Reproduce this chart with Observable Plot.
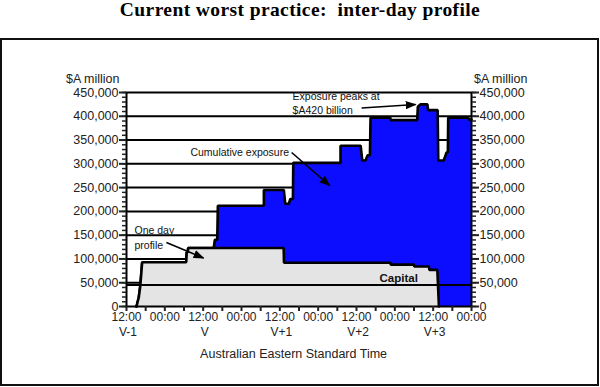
<!DOCTYPE html>
<html><head><meta charset="utf-8">
<script src="https://cdn.jsdelivr.net/npm/d3@7"></script>
<script src="https://cdn.jsdelivr.net/npm/@observablehq/plot@0.6"></script>
<style>
html,body{margin:0;padding:0;background:#fff;}
#wrap{position:relative;width:600px;height:387px;}
#title{position:absolute;left:0;top:0;width:600px;text-align:center;font-family:"Liberation Serif","Times New Roman",serif;font-weight:bold;font-size:19.5px;line-height:19.5px;letter-spacing:0.4px;white-space:pre;color:#000;}
#box{position:absolute;left:0;top:37.5px;width:599px;height:348px;border:2px solid #111;box-sizing:border-box;}
#chart{position:absolute;left:0;top:0;}
</style></head><body>
<div id="wrap"><div id="title">Current worst practice:  inter-day profile</div><div id="box"></div><div id="chart"></div></div>
<script>
// hours since 12:00 on day V-1
const cumHours  = [3.13, 3.85, 4.3, 4.9, 18.7, 18.85, 19.2, 19.3, 27.3, 27.65, 28.4, 28.6, 43.0, 43.0, 49.25, 49.7, 50.8, 51.3, 52.1, 52.2, 67.0, 67.0, 73.3, 73.8, 74.8, 75.5, 76.2, 76.4, 82.6, 82.7, 91.0, 91.2, 92.0, 94.2, 94.4, 97.4, 97.6, 99.3, 100.2, 100.6, 100.7, 107.0, 107.2, 108];
const cumValues = [0, 19500, 42000, 93000, 93000, 114000, 114000, 123000, 123000, 140000, 140000, 212000, 212000, 245000, 245000, 216000, 216000, 226000, 226000, 302000, 302000, 338000, 338000, 307000, 307000, 318000, 318000, 397000, 397000, 392000, 392000, 420000, 425000, 425000, 413000, 413000, 307000, 307000, 324000, 324000, 397000, 397000, 393000, 393000];

const oneHours  = [3.13, 3.85, 4.3, 4.9, 18.7, 18.85, 19.2, 19.3, 49.2, 49.3, 82.6, 82.7, 90.0, 90.1, 94.7, 94.8, 97.3, 97.8];
const oneValues = [0, 19500, 42000, 93000, 93000, 114000, 114000, 123000, 123000, 92000, 92000, 88000, 88000, 84000, 84000, 77000, 77000, 0];

const capitalValue = 45000;

const yTicks = [0, 50000, 100000, 150000, 200000, 250000, 300000, 350000, 400000, 450000];
const gridValues = [50000, 100000, 150000, 200000, 250000, 300000, 350000, 400000];
const yMinorTicks = d3.range(0, 450001, 10000);

const xTickHours = [0, 12, 24, 36, 48, 60, 72, 84, 96, 108];
const xTickTimes = ["12:00", "00:00", "12:00", "00:00", "12:00", "00:00", "12:00", "00:00", "12:00", "00:00"];
const dayLabels  = ["V-1", "", "V", "", "V+1", "", "V+2", "", "V+3", ""];
const xMinorTicks = d3.range(0, 109, 6);

const noteTexts  = ["Exposure peaks at", "$A420 billion", "Cumulative exposure", "One day", "profile"];
const noteHours  = [52.0, 52.0, 20.0, 2.5, 2.5];
const noteValues = [441500, 412100, 322700, 158900, 128300];

const arrowFromH = [73.6, 51.7, 12.5];
const arrowFromV = [417400, 323800, 134600];
const arrowToH   = [90.5, 63.6, 24.1];
const arrowToV   = [424700, 254400, 102000];

const cumData = cumHours.map((h, i) => ({h, v: cumValues[i]}));
const oneData = oneHours.map((h, i) => ({h, v: oneValues[i]}));
const notes = noteTexts.map((t, i) => ({t, h: noteHours[i], v: noteValues[i]}));
const arrows = arrowFromH.map((h, i) => ({h1: h, v1: arrowFromV[i], h2: arrowToH[i], v2: arrowToV[i]}));
const xLabels = xTickHours.map((h, i) => ({h, t: xTickTimes[i], d: dayLabels[i]}));

function solidArrow(color) {
  const ns = "http://www.w3.org/2000/svg";
  const m = document.createElementNS(ns, "marker");
  m.setAttribute("viewBox", "0 -5 10 10");
  m.setAttribute("refX", "9");
  m.setAttribute("refY", "0");
  m.setAttribute("markerWidth", "11");
  m.setAttribute("markerHeight", "11");
  m.setAttribute("markerUnits", "userSpaceOnUse");
  m.setAttribute("orient", "auto");
  const p = document.createElementNS(ns, "path");
  p.setAttribute("d", "M0,-3.8L10,0L0,3.8Z");
  p.setAttribute("fill", color);
  p.setAttribute("stroke", "none");
  m.appendChild(p);
  return m;
}

const fmt = d3.format(",");
const tickColor = "#222";

const chart = Plot.plot({
  width: 600,
  height: 387,
  marginLeft: 126,
  marginRight: 129,
  marginTop: 92,
  marginBottom: 81,
  style: {fontFamily: "'Liberation Sans', Arial, sans-serif", fontSize: "12.5px", color: "#222", background: "transparent", overflow: "visible"},
  x: {domain: [0, 108]},
  y: {domain: [0, 450000]},
  marks: [
    Plot.ruleY(gridValues, {stroke: "#000", strokeWidth: 2}),
    Plot.area(cumData, {x1: "h", y1: () => 0, y2: "v", fill: "#0c0cff", curve: "linear"}),
    Plot.lineY(cumData, {x: "h", y: "v", stroke: "#000", strokeWidth: 2.6, strokeLinejoin: "miter"}),
    Plot.area(oneData, {x1: "h", y1: () => 0, y2: "v", fill: "#e4e4e4", curve: "linear"}),
    Plot.lineY(oneData, {x: "h", y: "v", stroke: "#000", strokeWidth: 2.6, strokeLinejoin: "miter"}),
    Plot.ruleY([capitalValue], {stroke: "#000", strokeWidth: 2}),
    Plot.frame({stroke: "#000", strokeWidth: 2}),
    Plot.axisY({anchor: "left", ticks: yMinorTicks, tickSize: 4, tickFormat: () => "", strokeWidth: 1.5, stroke: tickColor, label: null}),
    Plot.axisY({anchor: "right", ticks: yMinorTicks, tickSize: 4, tickFormat: () => "", strokeWidth: 1.5, stroke: tickColor, label: null}),
    Plot.axisY({anchor: "left", ticks: yTicks, tickSize: 7, tickPadding: 1, tickFormat: fmt, strokeWidth: 2, stroke: tickColor, fill: tickColor, fontSize: 12.5, label: null}),
    Plot.axisY({anchor: "right", ticks: yTicks, tickSize: 7, tickPadding: 1, tickFormat: fmt, strokeWidth: 2, stroke: tickColor, fill: tickColor, fontSize: 12.5, label: null}),
    Plot.axisX({anchor: "bottom", ticks: xMinorTicks, tickSize: 5, tickFormat: () => "", strokeWidth: 2, stroke: tickColor, label: null}),
    Plot.text(xLabels, {x: "h", text: "t", frameAnchor: "bottom", dy: 14.5, fontSize: 12, fill: tickColor}),
    Plot.text(xLabels, {x: "h", text: "d", frameAnchor: "bottom", dy: 29, dx: 1.5, fontSize: 12, fill: tickColor}),
    Plot.text(["Australian Eastern Standard Time"], {x: [52.3], text: d => d, frameAnchor: "bottom", dy: 51, fontSize: 12.5, fill: tickColor}),
    Plot.text(["$A million"], {text: d => d, frameAnchor: "top-left", textAnchor: "end", dx: -7, dy: -18.5, fontSize: 12.5, fill: tickColor}),
    Plot.text(["$A million"], {text: d => d, frameAnchor: "top-right", textAnchor: "start", dx: 2.5, dy: -18.5, fontSize: 12.5, fill: tickColor}),
    Plot.text(notes, {x: "h", y: "v", text: "t", textAnchor: "start", fontSize: 10.5, fill: "#111"}),
    Plot.text(["Capital"], {x: [79.2], y: [59900], text: d => d, textAnchor: "start", fontSize: 11.5, fontWeight: "bold", fill: "#111"}),
    Plot.link(arrows, {x1: "h1", y1: "v1", x2: "h2", y2: "v2", stroke: "#000", strokeWidth: 1.6, markerEnd: solidArrow})
  ]
});
document.getElementById("chart").appendChild(chart);
</script>
</body></html>
